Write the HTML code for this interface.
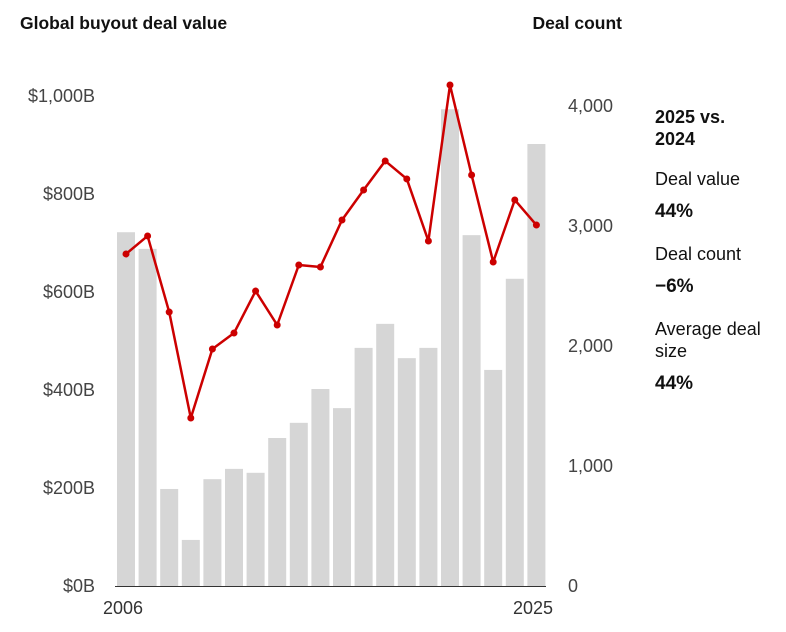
<!DOCTYPE html>
<html><head><meta charset="utf-8"><style>
body{margin:0;background:#fff;font-family:"Liberation Sans",sans-serif;}
svg text{font-family:"Liberation Sans",sans-serif;}
</style></head><body>
<svg width="786" height="627" id="chart">
<text x="20" y="29" font-size="17.5" font-weight="bold" fill="#111">Global buyout deal value</text>
<text x="622" y="29" font-size="17.5" font-weight="bold" fill="#111" text-anchor="end">Deal count</text>
<g id="yl"></g><g id="yr"></g><g id="bars"></g><g id="line"></g>
<text x="103" y="614" font-size="18" fill="#333">2006</text>
<text x="513" y="614" font-size="18" fill="#333">2025</text>
<g fill="#111">
<text x="655" y="123" font-size="18" font-weight="bold">2025 vs.</text>
<text x="655" y="145" font-size="18" font-weight="bold">2024</text>
<text x="655" y="185" font-size="18">Deal value</text>
<text x="655" y="217" font-size="19" font-weight="bold">44%</text>
<text x="655" y="260" font-size="18">Deal count</text>
<text x="655" y="292" font-size="19" font-weight="bold">−6%</text>
<text x="655" y="335" font-size="18">Average deal</text>
<text x="655" y="357" font-size="18">size</text>
<text x="655" y="389" font-size="19" font-weight="bold">44%</text>
</g>
</svg>
<script>
const years=[2006,2007,2008,2009,2010,2011,2012,2013,2014,2015,2016,2017,2018,2019,2020,2021,2022,2023,2024,2025];
const dealValue=[722,688,198,94,218,239,231,302,333,402,363,486,535,465,486,973,716,441,627,902];
const dealCount=[2767,2917,2283,1400,1975,2108,2458,2175,2675,2658,3050,3300,3542,3392,2875,4175,3425,2700,3217,3008];
const leftTicks=[0,200,400,600,800,1000];
const leftTickLabels=["$0B","$200B","$400B","$600B","$800B","$1,000B"];
const rightTicks=[0,1000,2000,3000,4000];
const rightTickLabels=["0","1,000","2,000","3,000","4,000"];
const NS="http://www.w3.org/2000/svg";
const base=586;
const yL=v=>base-v*0.49;
const yR=v=>base-v*0.12;
const x=i=>126+i*21.6;
function mk(t,a,p){const e=document.createElementNS(NS,t);for(const k in a)e.setAttribute(k,a[k]);p.appendChild(e);return e;}
const gl=document.getElementById('yl'),gr=document.getElementById('yr'),gb=document.getElementById('bars'),gline=document.getElementById('line');
leftTicks.forEach((v,i)=>{const t=mk('text',{x:95,y:yL(v)+6,'font-size':18,fill:'#444','text-anchor':'end'},gl);t.textContent=leftTickLabels[i];

});
rightTicks.forEach((v,i)=>{const t=mk('text',{x:568,y:yR(v)+6,'font-size':18,fill:'#444'},gr);t.textContent=rightTickLabels[i];

});
dealValue.forEach((v,i)=>{const r=mk('rect',{x:x(i)-9,y:yL(v),width:18,height:base-yL(v),fill:'#d6d6d6'},gb);

});
const l=mk('line',{x1:115,x2:546,y1:base+0.5,y2:base+0.5,stroke:'#333','stroke-width':1},gb);


const pts=dealCount.map((v,i)=>x(i)+','+yR(v)).join(' ');
const pl=mk('polyline',{points:pts,fill:'none',stroke:'#cc0000','stroke-width':2.5,'stroke-linejoin':'round'},gline);


dealCount.forEach((v,i)=>{const c=mk('circle',{cx:x(i),cy:yR(v),r:3.5,fill:'#cc0000'},gline);

});
</script>
</body></html>
